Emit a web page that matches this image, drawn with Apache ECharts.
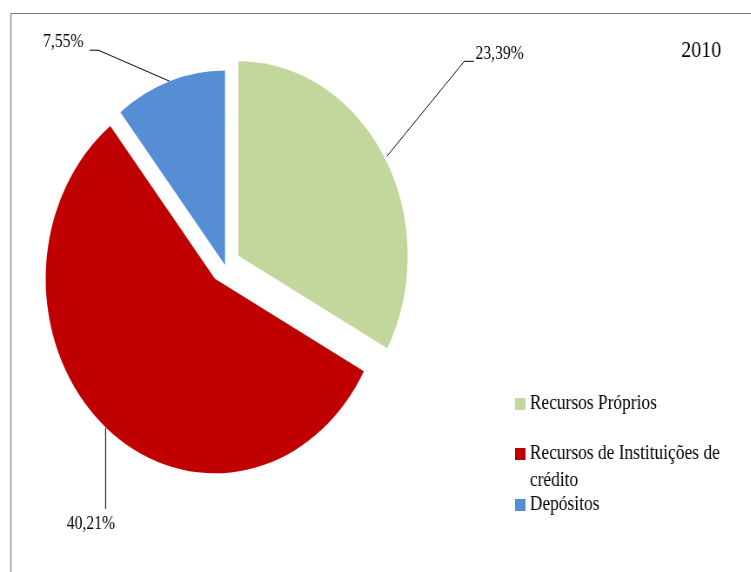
<!DOCTYPE html>
<html><head><meta charset="utf-8">
<script src="https://cdn.jsdelivr.net/npm/echarts@6/dist/echarts.min.js"></script>
<style>
html,body{margin:0;padding:0;background:#fff;overflow:hidden;width:751px;height:572px}
#wrap{position:absolute;left:0;top:0;width:863px;height:572px;transform:scaleX(0.87);transform-origin:0 0}
</style></head><body>
<div id="wrap"></div>
<script>
// ---- data ----
const chartTitle = '2010';
const categories = ['Recursos Próprios', 'Recursos de Instituições de crédito', 'Depósitos'];
const values = [23.39, 40.21, 7.55];
const exploded = [true, true, false];
const colors = ['#C3D69B', '#C00000', '#558ED5'];

// ---- label guide-line shapes (offsets from the un-exploded slice edge point) ----
const labelShapes = [
  { start: [19, -9], mid: [108, -104], end: [119, -104], text: [121, -111], align: 'left' },
  { start: [-12, 14], mid: [-12, 95], end: [-12, 95], text: [-29, 110], align: 'center' },
  { start: [0, 0], mid: [-82, -31], end: [-92, -31], text: [-99, -39], align: 'right' }
];

const FONT = '"Liberation Serif", "DejaVu Serif", serif';
const chart = echarts.init(document.getElementById('wrap'), null, { renderer: 'canvas' });

function legendFor(i, top, extra) {
  return Object.assign({
    data: [categories[i]],
    orient: 'vertical',
    left: 592, top: top,
    padding: 0,
    icon: 'rect', itemWidth: 12, itemHeight: 12,
    selectedMode: false,
    textStyle: { fontFamily: FONT, fontSize: 20, color: '#000', lineHeight: 27 }
  }, extra || {});
}

const pieCenter = [258.6, 265];
const pieRadius = 194.5;

chart.setOption({
  animation: false,
  backgroundColor: '#fff',
  title: {
    text: chartTitle, left: 783, top: 38, padding: 0,
    textStyle: { fontFamily: FONT, fontSize: 23, fontWeight: 'normal', color: '#000', lineHeight: 25 }
  },
  graphic: [{
    type: 'rect', left: 10, top: 11, silent: true,
    shape: { width: 1000, height: 1000 },
    style: { fill: 'none', stroke: '#7a7a7a', lineWidth: 1.2 }
  }],
  legend: [
    legendFor(0, 390.5),
    legendFor(1, 413.5, {
      formatter: n => '\n' + n.replace(' crédito', '\ncrédito')
    }),
    legendFor(2, 491.5)
  ],
  series: [{
    type: 'pie',
    name: 'slices',
    center: pieCenter,
    radius: pieRadius,
    startAngle: 90,
    clockwise: true,
    selectedMode: 'multiple',
    selectedOffset: 18,
    silent: true,
    emphasis: { disabled: true },
    select: { itemStyle: { borderWidth: 0 } },
    itemStyle: { borderWidth: 0 },
    label: { show: false },
    labelLine: { show: false },
    data: categories.map((c, i) => ({
      name: c, value: values[i], selected: exploded[i],
      itemStyle: { color: colors[i] }
    }))
  }, {
    type: 'pie',
    name: 'labels',
    center: pieCenter,
    radius: pieRadius,
    startAngle: 90,
    clockwise: true,
    silent: true,
    avoidLabelOverlap: false,
    emphasis: { disabled: true },
    itemStyle: { color: 'rgba(0,0,0,0)', borderWidth: 0 },
    label: {
      show: true, position: 'outside',
      fontFamily: FONT, fontSize: 18, color: '#000',
      formatter: p => p.value.toFixed(2).replace('.', ',') + '%'
    },
    labelLine: { show: true, length: 20, length2: 20, lineStyle: { color: '#000', width: 1 } },
    labelLayout: function (params) {
      const s = labelShapes[params.dataIndex];
      const p0 = params.labelLinePoints[0];
      return {
        x: p0[0] + s.text[0], y: p0[1] + s.text[1],
        align: s.align, verticalAlign: 'middle',
        labelLinePoints: [
          [p0[0] + s.start[0], p0[1] + s.start[1]],
          [p0[0] + s.mid[0], p0[1] + s.mid[1]],
          [p0[0] + s.end[0], p0[1] + s.end[1]]
        ]
      };
    },
    data: categories.map((c, i) => ({ name: c, value: values[i] }))
  }]
});
</script>
</body></html>
